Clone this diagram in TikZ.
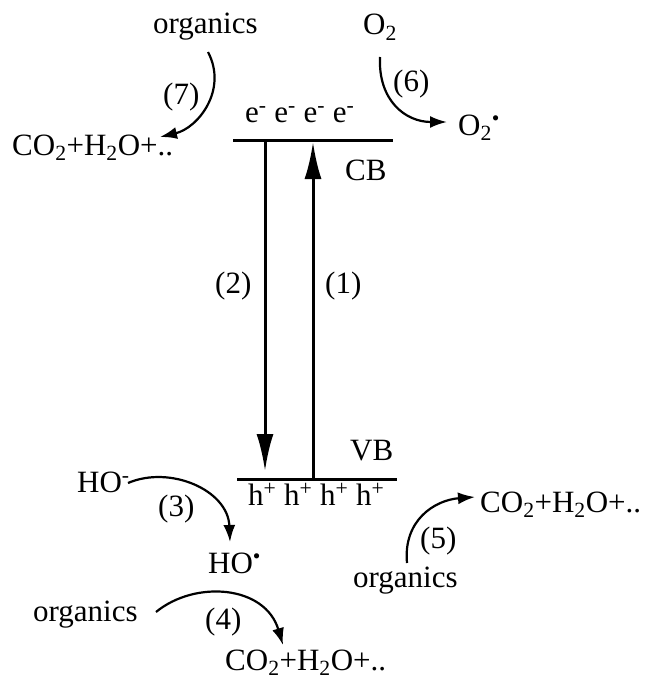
\documentclass[tikz,border=0pt]{standalone}
\usepackage{fontspec}
\setmainfont{Liberation Serif}
\usetikzlibrary{arrows.meta}
\begin{document}
\begin{tikzpicture}[x=1pt,y=-1pt,
  lbl/.style={inner sep=0pt,anchor=base west,font=\fontsize{31}{37}\selectfont},
  band/.style={line width=3pt},
  trans/.style={line width=3pt,-{Latex[length=37pt,width=17pt]}},
  react/.style={line width=2.2pt,-{Latex[length=17pt,width=12pt]}}]
\useasboundingbox (0,0) rectangle (647,677);
% texts
\node[lbl] (org7) at (153,34) {organics};
\node[lbl] (o2) at (363,35) {O\textsubscript{2}};
\node[lbl] (prod7) at (12,155) {CO\textsubscript{2}+H\textsubscript{2}O+..};
\node[lbl] (el) at (245,122) {e\textsuperscript{-} e\textsuperscript{-} e\textsuperscript{-} e\textsuperscript{-}};
\node[lbl] (o2r) at (458,135) {O\textsubscript{2}\textsuperscript{\textbullet}};
\node[lbl] (cb) at (345,180) {CB};
\node[lbl] (l7) at (163,104) {(7)};
\node[lbl] (l6) at (393,91) {(6)};
\node[lbl] (l2) at (215,293) {(2)};
\node[lbl] (l1) at (325,293) {(1)};
\node[lbl] (vb) at (350,460) {VB};
\node[lbl] (hp) at (248,505) {h\textsuperscript{+} h\textsuperscript{+} h\textsuperscript{+} h\textsuperscript{+}};
\node[lbl] (ho) at (77,492) {HO\textsuperscript{-}};
\node[lbl] (l3) at (158,516) {(3)};
\node[lbl] (hor) at (208,573) {HO\textsuperscript{\textbullet}};
\node[lbl] (org4) at (33,621) {organics};
\node[lbl] (l4) at (205,629) {(4)};
\node[lbl] (prod4) at (225,670) {CO\textsubscript{2}+H\textsubscript{2}O+..};
\node[lbl] (prod5) at (480,512) {CO\textsubscript{2}+H\textsubscript{2}O+..};
\node[lbl] (l5) at (420,548) {(5)};
\node[lbl] (org5) at (353,587) {organics};
% band edges
\coordinate (cbw) at (233,140); \coordinate (cbe) at (393,140);
\coordinate (vbw) at (237,479); \coordinate (vbe) at (397,479);
\draw[band] (cbw) -- (cbe);
\draw[band] (vbw) -- (vbe);
% transitions
\coordinate (t2s) at (265,140); \coordinate (t2e) at (265,471);
\coordinate (t1s) at (313,479); \coordinate (t1e) at (313,142);
\draw[trans] (t2s) -- (t2e);
\draw[trans] (t1s) -- (t1e);
% reactions
\coordinate (r7s) at (208,52); \coordinate (r7e) at (160,137);
\draw[react] (r7s) .. controls (228,90) and (198,128) .. (r7e);
\coordinate (r6s) at (380,57); \coordinate (r6e) at (447,122);
\draw[react] (r6s) .. controls (378,100) and (405,122) .. (r6e);
\coordinate (r3s) at (128,483); \coordinate (r3e) at (230,542);
\draw[react] (r3s) .. controls (170,465) and (228,490) .. (r3e);
\coordinate (r4s) at (156,612); \coordinate (r4e) at (283,645);
\draw[react] (r4s) .. controls (195,580) and (265,585) .. (r4e);
\coordinate (r5s) at (407,563); \coordinate (r5e) at (475,497);
\draw[react] (r5s) .. controls (403,520) and (435,500) .. (r5e);
\end{tikzpicture}
\end{document}
